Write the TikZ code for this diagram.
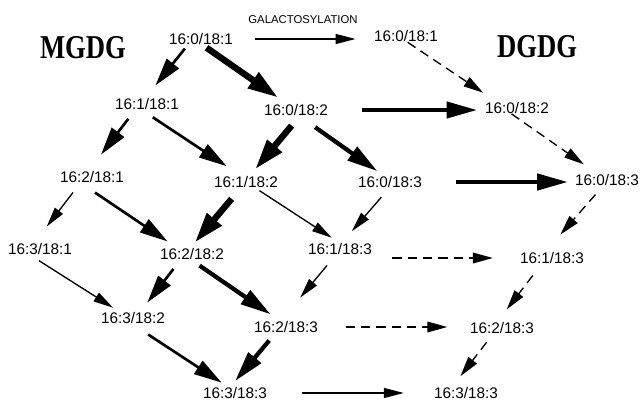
\documentclass[tikz,border=0pt]{standalone}
\usepackage{fontspec}
\usepackage{graphicx}
\usetikzlibrary{arrows.meta}
\newfontfamily\labfont{Liberation Sans}
\newfontfamily\titfont{Liberation Serif}

\tikzset{every picture/.style={line width=0.75pt}}
\tikzset{
  lipid/.style={inner sep=1.5pt, font=\labfont\fontsize{11.5}{13}\selectfont},
  fluxthin/.style={line width=1pt, -{Triangle[length=15pt,width=7.5pt]}},
  fluxmed/.style={line width=2pt, -{Triangle[length=21pt,width=11.5pt]}},
  fluxthick/.style={line width=3.2pt, -{Triangle[length=23pt,width=12pt]}},
  fluxheavy/.style={line width=4.8pt, -{Triangle[length=23pt,width=13.5pt]}},
  fluxdashed/.style={line width=1pt, dash pattern=on 7pt off 4.5pt, -{Triangle[length=15pt,width=8pt]}}
}

\begin{document}
\begin{tikzpicture}[x=0.75pt,y=0.75pt,yscale=-1,xscale=1]
%set diagram left start at 0, and has height of 400
\useasboundingbox (0,0) rectangle (640,400);

% Text Node
\node (mgdg) at (83,48) {\scalebox{0.8}[1]{\titfont\bfseries\fontsize{25}{25}\selectfont MGDG}};
% Text Node
\node (dgdg) at (537,47) {\scalebox{0.8}[1]{\titfont\bfseries\fontsize{25}{25}\selectfont DGDG}};
% Text Node
\node (galac) at (303,20) {\labfont\fontsize{8.5}{10}\selectfont GALACTOSYLATION};

% MGDG species
\node [lipid] (m01) at (201,39) {16:0/18:1};
\node [lipid] (m11) at (147,104) {16:1/18:1};
\node [lipid] (m02) at (296,110) {16:0/18:2};
\node [lipid] (m21) at (92,177) {16:2/18:1};
\node [lipid] (m12) at (246,182) {16:1/18:2};
\node [lipid] (m03) at (390,182) {16:0/18:3};
\node [lipid] (m31) at (40,249) {16:3/18:1};
\node [lipid] (m22) at (192,254) {16:2/18:2};
\node [lipid] (m13) at (340,249) {16:1/18:3};
\node [lipid] (m32) at (133,318) {16:3/18:2};
\node [lipid] (m23) at (286,327) {16:2/18:3};
\node [lipid] (m33) at (235,393) {16:3/18:3};

% DGDG species
\node [lipid] (d01) at (406,36) {16:0/18:1};
\node [lipid] (d02) at (517,108) {16:0/18:2};
\node [lipid] (d03) at (607,180) {16:0/18:3};
\node [lipid] (d13) at (552,258) {16:1/18:3};
\node [lipid] (d23) at (502,328) {16:2/18:3};
\node [lipid] (d33) at (466,393) {16:3/18:3};

%Straight Lines: desaturation in MGDG
\draw [fluxmed, shorten <=1.4pt, shorten >=10.1pt] ([xshift=-11.2pt]m01.south) -- (m11.north);
\draw [fluxheavy, shorten <=0.8pt, shorten >=5.5pt] ([xshift=3.5pt]m01.south) -- ([xshift=-8.8pt]m02.north);
\draw [fluxmed, shorten <=6.3pt, shorten >=13.5pt] ([xshift=-10.2pt]m11.south) -- ([xshift=-1.4pt]m21.north);
\draw [fluxmed, shorten <=7pt, shorten >=10.4pt] ([xshift=-1.5pt]m11.south) -- ([xshift=-5.8pt]m12.north);
\draw [fluxheavy, shorten <=7.3pt, shorten >=4.4pt] ([xshift=1.4pt]m02.south) -- ([xshift=4pt]m12.north);
\draw [fluxthick, shorten <=11.8pt, shorten >=3.6pt] ([xshift=4.7pt]m02.south) -- ([xshift=-6.6pt]m03.north);
\draw [fluxthin, shorten <=7pt, shorten >=13.5pt] ([xshift=-10pt]m21.south) -- ([xshift=-3.2pt]m31.north);
\draw [fluxmed, shorten <=10pt, shorten >=6pt] ([xshift=-6pt]m21.south) -- ([xshift=-13.4pt]m22.north);
\draw [fluxheavy, shorten <=8.5pt, shorten >=3.1pt] ([xshift=-5.3pt]m12.south) -- (m22.north);
\draw [fluxthin, shorten <=0.7pt, shorten >=4.3pt] ([xshift=9.5pt]m12.south) -- ([xshift=-2.6pt]m13.north);
\draw [fluxthin, shorten <=7pt, shorten >=9.6pt] ([xshift=-1.9pt]m03.south) -- ([xshift=2.6pt]m13.north);
\draw [fluxthin, shorten <=4.8pt, shorten >=3pt] ([xshift=-4.9pt]m31.south) -- ([xshift=-12.4pt]m32.north);
\draw [fluxmed, shorten <=6.5pt, shorten >=6.9pt] ([xshift=-9.9pt]m22.south) -- ([xshift=6.5pt]m32.north);
\draw [fluxthick, shorten <=4.6pt, shorten >=5.9pt] ([xshift=1.9pt]m22.south) -- ([xshift=-6.6pt]m23.north);
\draw [fluxthin, shorten <=8.2pt, shorten >=20.8pt] ([xshift=-4.5pt]m13.south) -- ([xshift=-2.7pt]m23.north);
\draw [fluxmed, shorten <=11.5pt, shorten >=3pt] ([xshift=1.8pt]m32.south) -- ([xshift=-7.5pt]m33.north);
\draw [fluxthick, shorten <=5.3pt, shorten >=3.7pt] ([xshift=-9.2pt]m23.south) -- ([xshift=-2.3pt]m33.north);

%Straight Lines: desaturation in DGDG
\draw [fluxdashed, shorten <=-2.4pt, shorten >=9.5pt] ([xshift=3.3pt]d01.south) -- ([xshift=-17.4pt]d02.north);
\draw [fluxdashed, shorten <=-2.9pt, shorten >=9.8pt] ([xshift=-1.7pt]d02.south) -- ([xshift=-9.3pt]d03.north);
\draw [fluxdashed, shorten <=6.4pt, shorten >=15.3pt] ([xshift=-4.4pt]d03.south) -- ([xshift=-3.8pt]d13.north);
\draw [fluxdashed, shorten <=8.9pt, shorten >=9.9pt] ([xshift=-9pt]d13.south) -- ([xshift=-2.5pt]d23.north);
\draw [fluxdashed, shorten <=5.8pt, shorten >=8.3pt] ([xshift=-8pt]d23.south) -- ([xshift=-9.2pt]d33.north);

%Straight Lines: galactosylation MGDG -> DGDG
\draw [fluxthin, shorten <=15pt, shorten >=12pt] (m01.east) -- (d01.west |- m01.east);
\draw [fluxthick, shorten <=23.8pt, shorten >=4pt] (m02.east) -- (d02.west |- m02.east);
\draw [fluxthick, shorten <=23.6pt, shorten >=3.5pt] (m03.east) -- (d03.west |- m03.east);
\draw [fluxdashed, shorten <=13.5pt, shorten >=18.5pt] (m13.east |- d13.west) -- (d13.west);
\draw [fluxdashed, shorten <=18.8pt, shorten >=15.2pt] (m23.east) -- (d23.west |- m23.east);
\draw [fluxthin, shorten <=24.5pt, shorten >=20.8pt] (m33.east) -- (d33.west);

\end{tikzpicture}
\end{document}
